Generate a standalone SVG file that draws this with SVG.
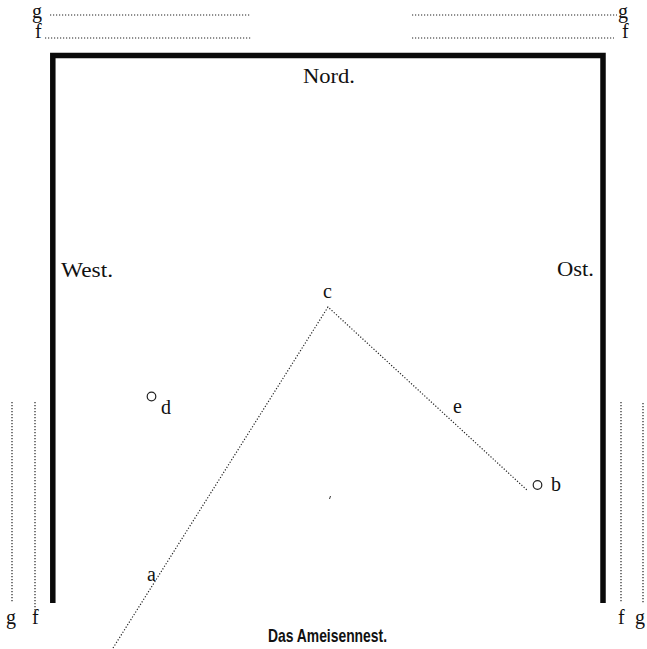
<svg xmlns="http://www.w3.org/2000/svg" width="647" height="649" viewBox="0 0 647 649">
<style>
.t{font-family:"Liberation Serif","Times New Roman",serif;font-size:20px;fill:#111}
.dot{stroke:#222;stroke-width:1.2;stroke-dasharray:1.2 1.8;fill:none}
.frame{stroke:#0a0a0a;stroke-width:5.5;fill:none;stroke-linejoin:miter}
.cap{font-family:"Liberation Sans",Arial,sans-serif;font-weight:bold;font-size:18.5px;fill:#111}
</style>
<rect width="647" height="649" fill="#fff"/>
<g id="frame"><path class="frame" d="M52.8 603 V55.5 H603 V603"/></g>
<g id="connectors">
<line class="dot" x1="50" y1="15" x2="251" y2="15"/>
<line class="dot" x1="45" y1="38" x2="252" y2="38"/>
<line class="dot" x1="412" y1="15" x2="617" y2="15"/>
<line class="dot" x1="412" y1="38" x2="614" y2="38"/>
<line class="dot" x1="12" y1="402" x2="12" y2="603"/>
<line class="dot" x1="35" y1="402" x2="35" y2="611"/>
<line class="dot" x1="621" y1="402" x2="621" y2="603"/>
<line class="dot" x1="643" y1="403" x2="643" y2="603"/>
<polyline class="dot" points="113,648 328,307 528,491"/>
</g>
<g id="labels-fg">
<text class="t" x="32" y="18">g</text>
<text class="t" x="35" y="38">f</text>
<text class="t" x="618" y="18">g</text>
<text class="t" x="622" y="38">f</text>
<text class="t" x="6" y="624">g</text>
<text class="t" x="32" y="624">f</text>
<text class="t" x="618" y="624">f</text>
<text class="t" x="635" y="624">g</text>
</g>
<g id="nord"><text class="t" x="303" y="83" textLength="52" lengthAdjust="spacingAndGlyphs">Nord.</text></g>
<g id="west"><text class="t" x="61" y="277" textLength="52" lengthAdjust="spacingAndGlyphs">West.</text></g>
<g id="ost"><text class="t" x="557" y="276" textLength="37" lengthAdjust="spacingAndGlyphs">Ost.</text></g>
<g id="c"><text class="t" x="323" y="298">c</text></g>
<g id="e"><text class="t" x="453" y="413">e</text></g>
<g id="a"><text class="t" x="147" y="581">a</text></g>
<g id="d"><circle cx="151.5" cy="396.5" r="4.3" fill="none" stroke="#222" stroke-width="1.2"/><text class="t" x="161" y="414">d</text></g>
<g id="b"><circle cx="537.5" cy="485" r="4.3" fill="none" stroke="#222" stroke-width="1.2"/><text class="t" x="551" y="491">b</text></g>
<g id="speck"><line x1="330.5" y1="496" x2="329.5" y2="499" stroke="#333" stroke-width="1"/></g>
<g id="caption"><text class="cap" x="268" y="642" textLength="119" lengthAdjust="spacingAndGlyphs">Das Ameisennest.</text></g>
</svg>
